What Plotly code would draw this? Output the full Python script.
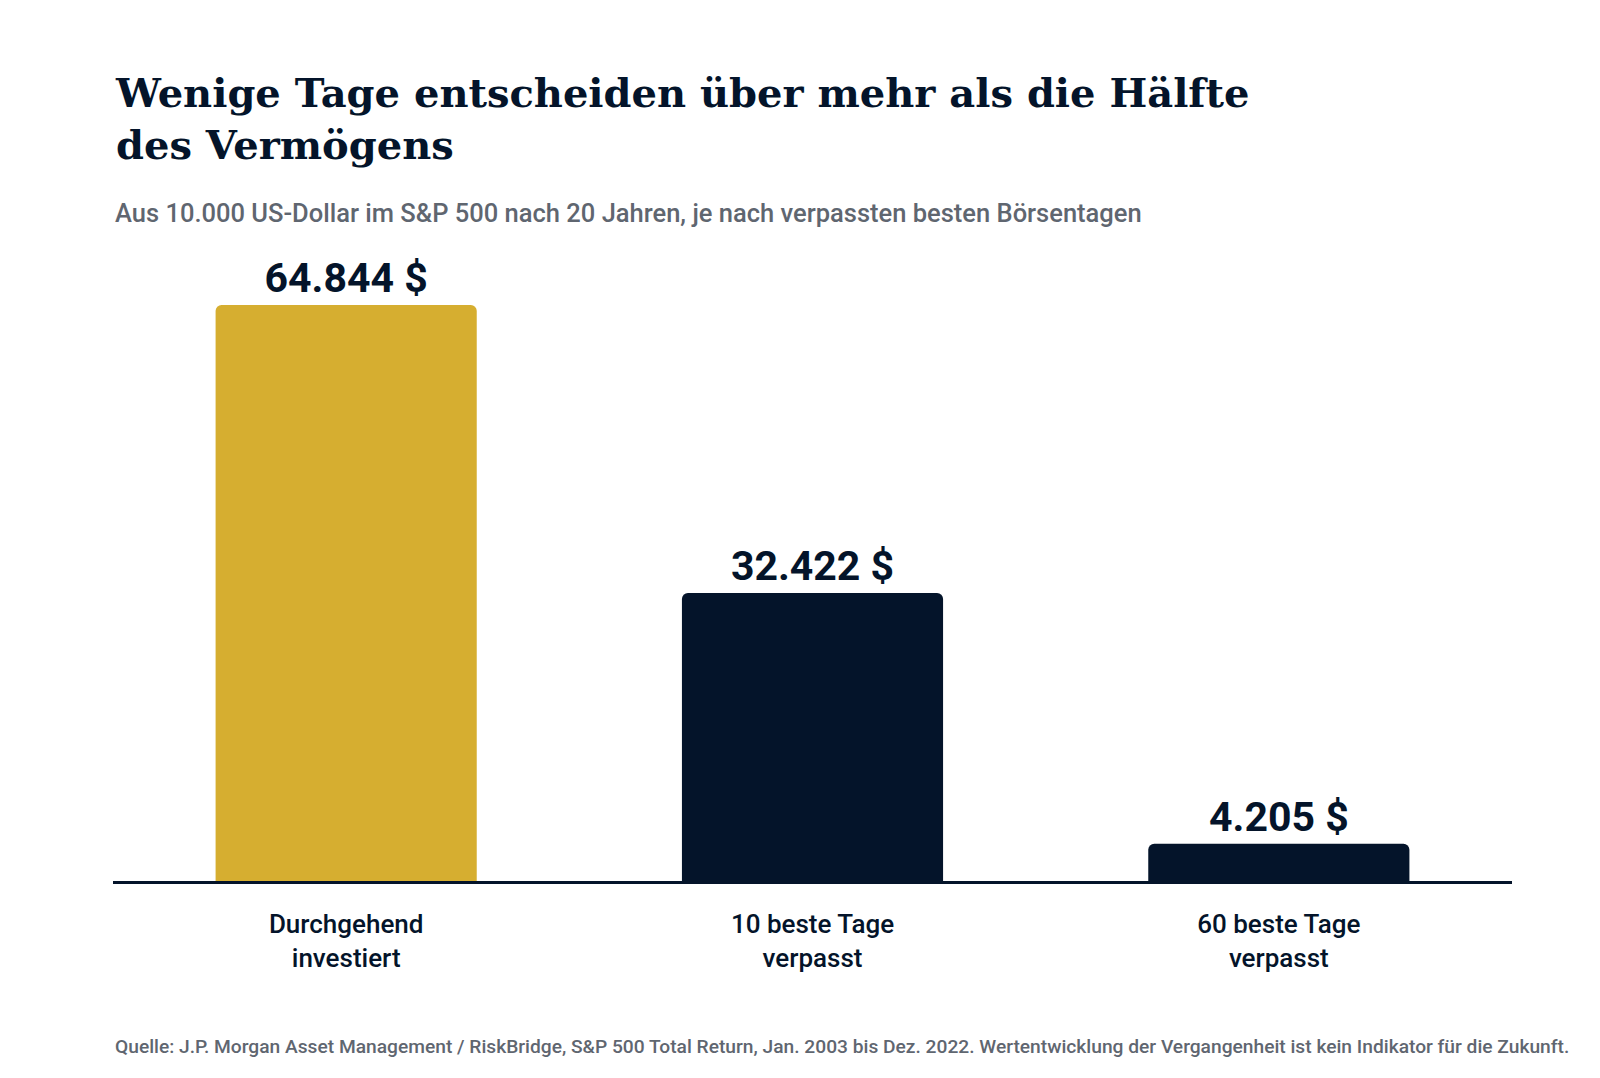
import plotly.graph_objects as go

categories = ["Durchgehend<br>investiert", "10 beste Tage<br>verpasst", "60 beste Tage<br>verpasst"]
values = [64844, 32422, 4205]
labels = ["64.844 $", "32.422 $", "4.205 $"]
colors = ["#D6AE30", "#04142A", "#04142A"]

fig = go.Figure(go.Bar(
    x=categories, y=values, text=labels, textposition="outside",
    marker=dict(color=colors, line=dict(width=0)),
    textfont=dict(family="Roboto", size=41, color="#04142A", weight="bold"),
    cliponaxis=False, hoverinfo="skip"))

fig.update_layout(
    width=1600, height=1078, plot_bgcolor="white", paper_bgcolor="white",
    margin=dict(l=105, r=96, t=250, b=205),
    bargap=0.44, barcornerradius=6, showlegend=False,
    xaxis=dict(showline=True, linecolor="#04142A", linewidth=2.5, ticks="",
               tickfont=dict(family="Roboto", size=26, color="#04142A", weight=500)),
    yaxis=dict(visible=False, range=[0, 70135]),
    annotations=[
        dict(text="<b>Wenige Tage entscheiden über mehr als die Hälfte<br>des Vermögens</b>",
             xref="paper", yref="paper", x=0, y=1, xanchor="left", yanchor="bottom",
             yshift=88, align="left", showarrow=False,
             font=dict(family="DejaVu Serif", size=40, color="#04142A")),
        dict(text="Aus 10.000 US-Dollar im S&P 500 nach 20 Jahren, je nach verpassten besten Börsentagen",
             xref="paper", yref="paper", x=0, y=1, xanchor="left", yanchor="bottom",
             yshift=28, showarrow=False,
             font=dict(family="Roboto", size=25.5, color="#5F6670", weight=500)),
        dict(text="Quelle: J.P. Morgan Asset Management / RiskBridge, S&P 500 Total Return, Jan. 2003 bis Dez. 2022. Wertentwicklung der Vergangenheit ist kein Indikator für die Zukunft.",
             xref="paper", yref="paper", x=0, y=0, xanchor="left", yanchor="top",
             yshift=-152, showarrow=False,
             font=dict(family="Roboto", size=19.2, color="#5F6670", weight=500)),
    ])
fig.update_xaxes(ticklabelstandoff=18)
fig.write_html("out.html")
